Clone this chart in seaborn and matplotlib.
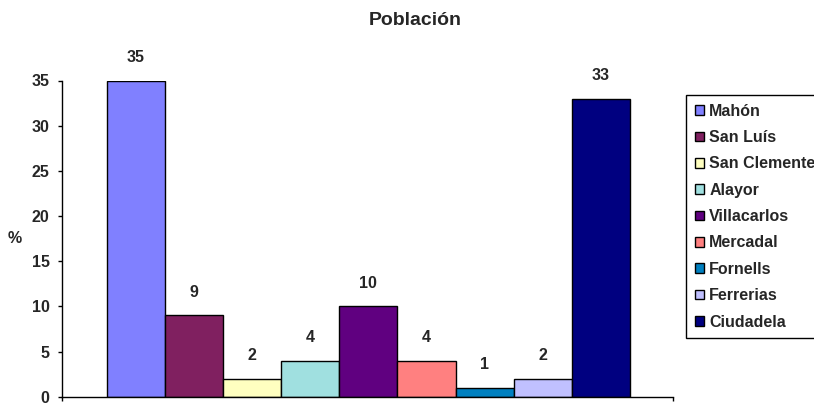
import matplotlib
matplotlib.use("Agg")
import matplotlib.pyplot as plt
import matplotlib.patches as mpatches
import pandas as pd
import seaborn as sns

# Population share per municipality of Menorca (%)
municipios = ["Mahón", "San Luís", "San Clemente", "Alayor", "Villacarlos",
              "Mercadal", "Fornells", "Ferrerias", "Ciudadela"]
poblacion = [35, 9, 2, 4, 10, 4, 1, 2, 33]
colores = ["#8080FF", "#802060", "#FFFFC0", "#A0E0E0", "#600080",
           "#FF8080", "#0080C0", "#C0C0FF", "#000080"]
y_ticks = [0, 5, 10, 15, 20, 25, 30, 35]

df = pd.DataFrame({"municipio": municipios, "pct": poblacion})
paleta = dict(zip(municipios, colores))

sns.set_style("ticks")
plt.rcParams["font.family"] = ["Liberation Sans", "DejaVu Sans"]
plt.rcParams["font.weight"] = "bold"

FS = 11.5

fig = plt.figure(figsize=(8.14, 4.03), dpi=100)
ax = fig.add_axes([62 / 814, 1 - 396.7 / 403, (673 - 62) / 814, (396.7 - 80.5) / 403])

sns.barplot(data=df, x="municipio", y="pct", hue="municipio", palette=paleta,
            width=1.0, edgecolor="black", linewidth=1.0, saturation=1,
            legend=False, ax=ax)

for cont in ax.containers:
    ax.bar_label(cont, fmt="%d", padding=11, fontsize=FS, fontweight="bold")

ax.set_ylim(0, 35)
ax.set_yticks(y_ticks)
x0, x1 = -1.27, 9.24
ax.set_xlim(x0, x1)
ax.set_xticks([x0, x1])
ax.set_xticklabels(["", ""])
ax.tick_params(axis="both", direction="out", length=3, width=1, color="black",
               labelsize=FS, pad=6)
for lab in ax.get_yticklabels():
    lab.set_fontweight("bold")

sns.despine(ax=ax)
for s in ("left", "bottom"):
    ax.spines[s].set_color("black")
    ax.spines[s].set_linewidth(1.0)

ax.set_xlabel("")
ax.set_ylabel("%", rotation=0, fontsize=FS, fontweight="bold", va="center", ha="center")
ax.yaxis.set_label_coords((15 - 62) / 611, 0.5)

fig.text(415 / 814, 1 - 20.5 / 403, "Población", ha="center", va="center",
         fontsize=14, fontweight="bold")

handles = [mpatches.Patch(facecolor=c, edgecolor="black", linewidth=1.0) for c in colores]
leg = fig.legend(handles, municipios, loc="upper left",
                 bbox_to_anchor=(686 / 814, 1 - 95 / 403),
                 prop={"size": FS, "weight": "bold"},
                 handlelength=0.55, handleheight=0.55, handletextpad=0.35,
                 labelspacing=0.71, borderpad=0.55, borderaxespad=0,
                 fancybox=False, framealpha=1, edgecolor="black")
leg.get_frame().set_linewidth(1.0)

fig.savefig("out.png", dpi=100)
